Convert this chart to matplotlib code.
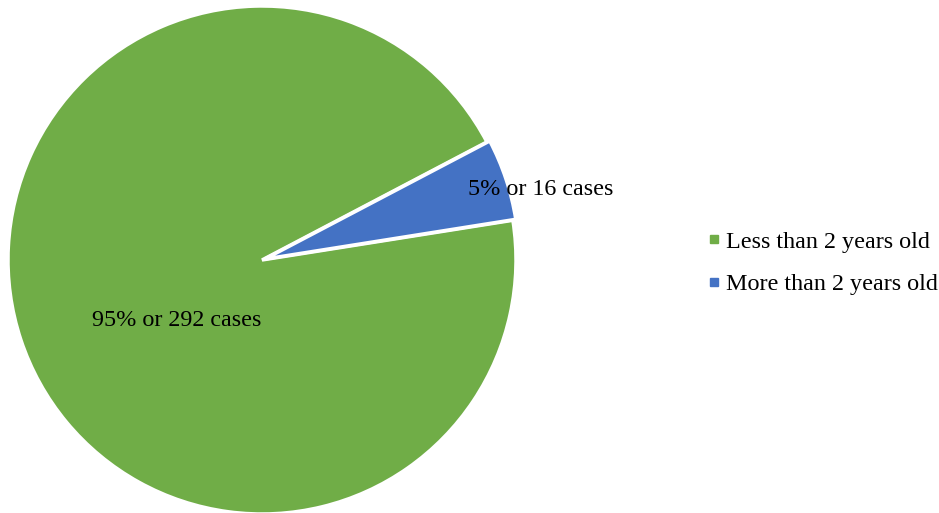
import matplotlib
matplotlib.use("Agg")
import matplotlib.pyplot as plt
from matplotlib.lines import Line2D

categories = ["Less than 2 years old", "More than 2 years old"]
cases = [292, 16]
percents = [95, 5]
colors = ["#70AD47", "#4472C4"]

plt.rcParams["font.family"] = ["Liberation Serif", "DejaVu Serif"]

fig = plt.figure(figsize=(9.39, 5.13), dpi=100)
ax = fig.add_axes([8 / 939, -1 / 513, 508 / 939, 508 / 513])

wedges, _ = ax.pie(cases, colors=colors, startangle=27.7, counterclock=True,
                   explode=[0, 0.012], radius=1,
                   wedgeprops=dict(edgecolor="white", linewidth=2.5))
ax.set_xlim(-1, 1)
ax.set_ylim(-1, 1)
ax.set_aspect("equal")
ax.axis("off")

label_pos = [(-0.335, -0.238), (1.098, 0.278)]
for (x, y), p, n in zip(label_pos, percents, cases):
    ax.text(x, y, f"{p}% or {n} cases", ha="center", va="center",
            fontsize=17.4, color="black", clip_on=False)

handles = [Line2D([], [], marker="s", linestyle="none", markersize=6,
                  markerfacecolor=c, markeredgecolor=c) for c in colors]
fig.legend(handles, categories, loc="center left",
           bbox_to_anchor=(696 / 939, 1 - 263 / 513), frameon=False,
           fontsize=17.4, handlelength=0.7, handletextpad=0.15,
           labelspacing=0.85, borderaxespad=0)

fig.savefig("out.png", dpi=100, facecolor="white")
